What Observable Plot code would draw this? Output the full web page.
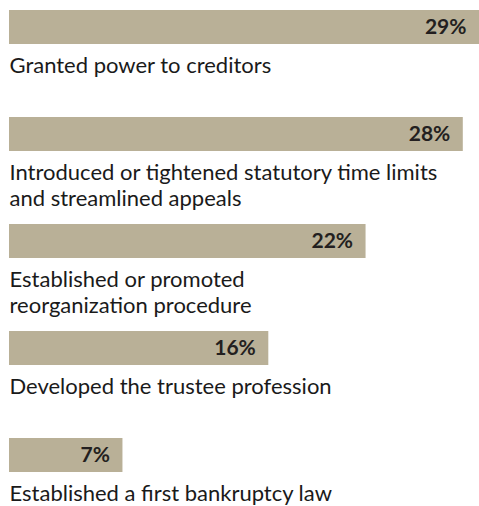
<!DOCTYPE html>
<html>
<head>
<meta charset="utf-8">
<script src="https://cdn.jsdelivr.net/npm/d3@7"></script>
<script src="https://cdn.jsdelivr.net/npm/@observablehq/plot@0.6"></script>
<style>
  html, body { margin: 0; padding: 0; background: #fff; }
</style>
</head>
<body>
<div id="chart"></div>
<script>
const categories = [
  "Granted power to creditors",
  "Introduced or tightened statutory time limits\nand streamlined appeals",
  "Established or promoted\nreorganization procedure",
  "Developed the trustee profession",
  "Established a first bankruptcy law"
];
const values = [29, 28, 22, 16, 7];
const valueLabels = ["29%", "28%", "22%", "16%", "7%"];

const data = categories.map((c, i) => ({category: c, value: values[i], label: valueLabels[i]}));

const chart = Plot.plot({
  width: 479,
  height: 506,
  marginLeft: 9,
  marginRight: 0,
  marginTop: 10,
  marginBottom: 30,
  style: {fontFamily: "Lato, 'Noto Sans', sans-serif", color: "#231f20", background: "#fff", overflow: "hidden"},
  x: {domain: [0, 29], axis: null},
  y: {domain: categories, axis: null, paddingInner: 0.685, paddingOuter: 0, align: 0},
  marks: [
    Plot.barX(data, {x: "value", y: "category", fill: "#b9b097"}),
    Plot.text(data, {x: "value", y: "category", text: "label", textAnchor: "end", dx: -13,
      fontWeight: "bold", fontSize: 21, fill: "#231f20", lineAnchor: "middle"}),
    Plot.text(data, {y: "category", text: "category", frameAnchor: "left", textAnchor: "start",
      lineAnchor: "top", dy: 26, lineHeight: 1.22, fontSize: 22, fill: "#1a1a1a"})
  ]
});
document.getElementById("chart").appendChild(chart);
</script>
</body>
</html>
